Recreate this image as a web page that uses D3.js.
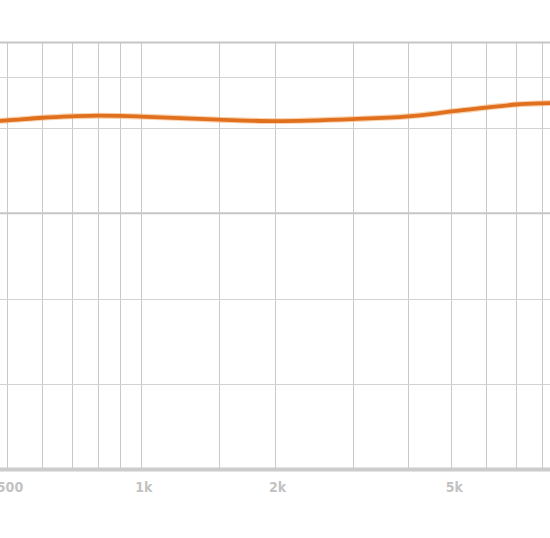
<!DOCTYPE html>
<html>
<head>
<meta charset="utf-8">
<script src="https://cdn.jsdelivr.net/npm/d3@7"></script>
<style>
  html, body { margin: 0; padding: 0; background: #fff; }
  svg { display: block; }
  .xlab { font-family: 'DejaVu Sans', sans-serif; font-stretch: condensed; font-weight: bold; }
</style>
</head>
<body>
<svg id="chart" width="550" height="538"></svg>
<script>
// ---- data ----
const freqGrid = [500, 600, 700, 800, 900, 1000, 1500, 2000, 3000, 4000, 5000, 6000, 7000, 8000, 9000, 10000];
const freqLabels = [500, 1000, 2000, 5000];
const freqLabelText = ["500", "1k", "2k", "5k"];
const dbGrid = [20, 16, 10, 0, -10, -20];
const dbMajor = [20, 0];
const dbBottom = -30;
const curveFreq = [470, 500, 600, 700, 800, 900, 1000, 1500, 2000, 3000, 4000, 4500, 5000, 6000, 7000, 8000, 8600];
const curveDb =   [10.80, 10.88, 11.19, 11.35, 11.43, 11.40, 11.33, 10.96, 10.80, 11.03, 11.36, 11.62, 11.93, 12.38, 12.74, 12.88, 12.93];

// ---- scales ----
const svg = d3.select("#chart");
const x = d3.scaleLog().domain([500, 8000]).range([7, 542]);
const y = d3.scaleLinear().domain([-30, 20]).range([469.5, 42.5]);

// vertical grid
svg.append("g").selectAll("line").data(freqGrid).join("line")
  .attr("x1", d => Math.round(x(d)) + 0.5).attr("x2", d => Math.round(x(d)) + 0.5)
  .attr("y1", y(20)).attr("y2", y(dbBottom))
  .attr("stroke", "#c9c9c9").attr("stroke-width", 1);

// horizontal grid
svg.append("g").selectAll("line").data(dbGrid).join("line")
  .attr("x1", 0).attr("x2", 550)
  .attr("y1", d => dbMajor.includes(d) ? y(d) : Math.round(y(d)) + 0.5)
  .attr("y2", d => dbMajor.includes(d) ? y(d) : Math.round(y(d)) + 0.5)
  .attr("stroke", d => dbMajor.includes(d) ? "#c6c6c6" : "#d2d2d2")
  .attr("stroke-width", d => dbMajor.includes(d) ? 2 : 1);

// bottom axis bar
svg.append("line")
  .attr("x1", 0).attr("x2", 550)
  .attr("y1", y(dbBottom)).attr("y2", y(dbBottom))
  .attr("stroke", "#cccccc").attr("stroke-width", 4);

// x labels
svg.append("g").selectAll("text").data(freqLabels).join("text")
  .attr("class", "xlab")
  .attr("x", d => x(d) + 3)
  .attr("y", 492)
  .attr("text-anchor", "middle")
  .attr("font-size", 14)
  .attr("fill", "#c2c2c2")
  .text((d, i) => freqLabelText[i]);

// response curve
const pts = curveFreq.map((f, i) => [f, curveDb[i]]);
const line = d3.line().x(d => x(d[0])).y(d => y(d[1])).curve(d3.curveMonotoneX);
svg.append("path")
  .datum(pts)
  .attr("d", line)
  .attr("fill", "none")
  .attr("stroke", "#f4b27a")
  .attr("stroke-width", 6)
  .attr("stroke-linecap", "round")
  .attr("opacity", 0.6);
svg.append("path")
  .datum(pts)
  .attr("d", line)
  .attr("fill", "none")
  .attr("stroke", "#e0701e")
  .attr("stroke-width", 3.8)
  .attr("stroke-linecap", "round");
</script>
</body>
</html>
